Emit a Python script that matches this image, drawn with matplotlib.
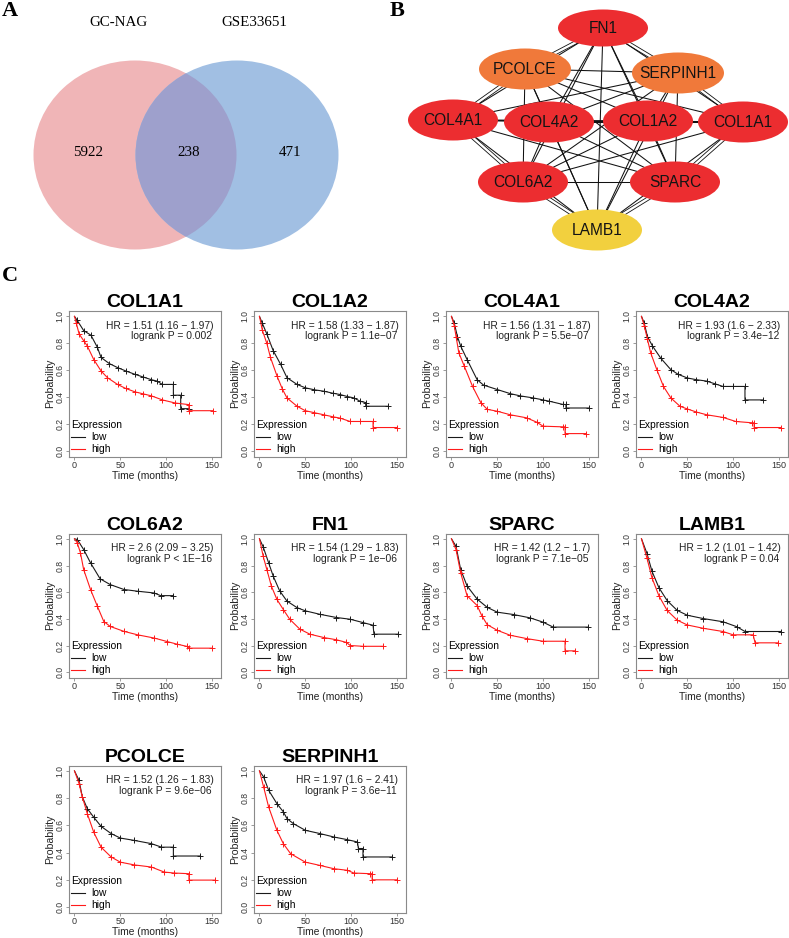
import matplotlib
matplotlib.use('Agg')
import matplotlib.pyplot as plt
from matplotlib.patches import Ellipse
from matplotlib.lines import Line2D
from itertools import combinations
import numpy as np

# ---------------- data ----------------
# Panel A (Venn)
venn_sets = ['GC-NAG', 'GSE33651']
venn_counts = [5922, 238, 471]          # only GC-NAG, both, only GSE33651
venn_colors = ['#F0B5B7', '#A1BFE3', '#9EA0CC']

# Panel B (PPI network of hub genes)
hub_genes = ['FN1', 'PCOLCE', 'SERPINH1', 'COL4A1', 'COL4A2',
             'COL1A2', 'COL1A1', 'COL6A2', 'SPARC', 'LAMB1']
hub_rank = ['high', 'mid', 'mid', 'high', 'high',
            'high', 'high', 'high', 'high', 'low']
rank_colors = {'high': '#EC2D30', 'mid': '#F0793A', 'low': '#F2D03E'}
double_edges = [('FN1', 'PCOLCE'), ('FN1', 'SERPINH1'), ('PCOLCE', 'COL4A1'),
                ('SERPINH1', 'COL1A1'), ('COL4A1', 'COL6A2'), ('COL1A1', 'SPARC'),
                ('COL6A2', 'LAMB1'), ('SPARC', 'LAMB1')]

# Panel C (Kaplan-Meier curves; step knots)
km_genes = ['COL1A1', 'COL1A2', 'COL4A1', 'COL4A2',
            'COL6A2', 'FN1', 'SPARC', 'LAMB1', 'PCOLCE', 'SERPINH1']

COL1A1_low_t = [0, 3, 10, 18, 25, 29, 38, 47, 56, 66, 75, 84, 90, 96, 108, 108, 116, 116, 125]
COL1A1_low_s = [1.0, 0.97, 0.895, 0.86, 0.77, 0.695, 0.65, 0.62, 0.595, 0.57, 0.55, 0.53, 0.52, 0.495, 0.495, 0.415, 0.415, 0.315, 0.315]
COL1A1_high_t = [0, 2, 5, 10, 14, 21, 29, 36, 47, 56, 66, 75, 84, 96, 110, 125, 125, 151]
COL1A1_high_s = [1.0, 0.95, 0.87, 0.82, 0.78, 0.68, 0.595, 0.545, 0.495, 0.465, 0.44, 0.425, 0.41, 0.38, 0.357, 0.345, 0.30, 0.30]

COL1A2_low_t = [0, 3, 8, 15, 23, 30, 41, 50, 60, 70, 80, 88, 96, 103, 110, 116, 116, 140]
COL1A2_low_s = [1.0, 0.95, 0.87, 0.745, 0.645, 0.545, 0.495, 0.47, 0.455, 0.445, 0.43, 0.42, 0.405, 0.395, 0.37, 0.36, 0.333, 0.333]
COL1A2_high_t = [0, 3, 8, 12, 19, 25, 30, 41, 50, 60, 70, 80, 88, 99, 110, 124, 124, 150]
COL1A2_high_s = [1.0, 0.9, 0.8, 0.695, 0.56, 0.46, 0.395, 0.333, 0.30, 0.285, 0.27, 0.255, 0.245, 0.22, 0.22, 0.22, 0.175, 0.175]

COL4A1_low_t = [0, 3, 6.5, 10, 17, 28, 35, 50, 64, 75, 89, 100, 107, 122, 125, 125, 150]
COL4A1_low_s = [1.0, 0.95, 0.85, 0.78, 0.68, 0.53, 0.49, 0.457, 0.427, 0.41, 0.395, 0.38, 0.37, 0.346, 0.346, 0.32, 0.32]
COL4A1_high_t = [0, 3, 5, 8, 14, 23, 32, 39, 50, 64, 82, 93, 100, 122, 124, 124, 147]
COL4A1_high_s = [1.0, 0.93, 0.85, 0.73, 0.63, 0.48, 0.36, 0.31, 0.296, 0.27, 0.247, 0.215, 0.185, 0.18, 0.18, 0.13, 0.13]

COL4A2_low_t = [0, 3, 6.5, 12, 21, 32, 40, 50, 60, 71, 80, 89, 100, 113, 113, 133]
COL4A2_low_s = [1.0, 0.95, 0.85, 0.78, 0.69, 0.605, 0.57, 0.543, 0.53, 0.52, 0.5, 0.48, 0.48, 0.48, 0.38, 0.38]
COL4A2_high_t = [0, 3, 6.5, 10, 17, 24, 32, 42, 50, 60, 71, 89, 103, 121, 123, 123, 152]
COL4A2_high_s = [1.0, 0.93, 0.83, 0.73, 0.6, 0.48, 0.395, 0.333, 0.313, 0.29, 0.27, 0.25, 0.22, 0.21, 0.21, 0.175, 0.175]

COL6A2_low_t = [0, 3, 10, 17.5, 28, 39, 54, 69, 87, 94, 108]
COL6A2_low_s = [1.0, 0.995, 0.92, 0.82, 0.70, 0.657, 0.62, 0.607, 0.594, 0.574, 0.574]
COL6A2_high_t = [0, 3, 6.5, 10, 17.5, 25, 32, 39, 54, 69, 87, 101, 112, 123, 125, 150]
COL6A2_high_s = [1.0, 0.97, 0.895, 0.77, 0.62, 0.494, 0.38, 0.343, 0.306, 0.28, 0.256, 0.23, 0.21, 0.193, 0.18, 0.18]

FN1_low_t = [0, 4, 10, 15, 22, 30, 41, 50, 66, 84, 99, 113, 124, 125, 151]
FN1_low_s = [1.0, 0.94, 0.82, 0.72, 0.61, 0.533, 0.484, 0.46, 0.434, 0.41, 0.397, 0.372, 0.352, 0.285, 0.285]
FN1_high_t = [0, 4, 8, 13, 19, 26, 33, 44, 55, 70, 84, 95, 99, 113, 135]
FN1_high_s = [1.0, 0.87, 0.77, 0.645, 0.546, 0.47, 0.397, 0.323, 0.285, 0.26, 0.243, 0.223, 0.2, 0.194, 0.194]

SPARC_low_t = [0, 5, 10, 17, 28, 39, 50, 68, 86, 100, 111, 149]
SPARC_low_s = [1.0, 0.943, 0.77, 0.647, 0.548, 0.486, 0.45, 0.432, 0.407, 0.375, 0.338, 0.338]
SPARC_high_t = [0, 5, 10, 17, 28, 33, 39, 50, 64, 82, 100, 124, 124, 135]
SPARC_high_s = [1.0, 0.918, 0.746, 0.573, 0.5, 0.425, 0.356, 0.314, 0.277, 0.252, 0.232, 0.232, 0.16, 0.16]

LAMB1_low_t = [0, 6, 11.5, 19, 28, 39, 50, 67.5, 89, 104, 113, 152]
LAMB1_low_s = [1.0, 0.89, 0.756, 0.634, 0.537, 0.463, 0.427, 0.402, 0.378, 0.341, 0.305, 0.305]
LAMB1_high_t = [0, 6, 11.5, 19, 28, 39, 50, 67.5, 89, 100, 122, 124, 149]
LAMB1_high_s = [1.0, 0.854, 0.707, 0.573, 0.463, 0.39, 0.354, 0.329, 0.305, 0.28, 0.28, 0.22, 0.22]

PCOLCE_low_t = [0, 5, 8.5, 14, 21, 29, 40, 50, 65, 84, 95, 108, 108, 137]
PCOLCE_low_s = [1.0, 0.93, 0.81, 0.723, 0.66, 0.593, 0.54, 0.507, 0.49, 0.466, 0.44, 0.44, 0.375, 0.375]
PCOLCE_high_t = [0, 5, 8.5, 14, 21, 29, 40, 50, 65, 84, 98, 109, 125, 125, 153]
PCOLCE_high_s = [1.0, 0.907, 0.81, 0.686, 0.55, 0.44, 0.368, 0.33, 0.31, 0.294, 0.257, 0.25, 0.245, 0.198, 0.198]

SERPINH1_low_t = [0, 4.5, 10, 19, 26, 30, 37, 50, 66, 81, 96, 107, 108, 113, 113, 145]
SERPINH1_low_s = [1.0, 0.956, 0.858, 0.76, 0.7, 0.65, 0.613, 0.564, 0.54, 0.515, 0.495, 0.478, 0.43, 0.43, 0.368, 0.368]
SERPINH1_high_t = [0, 4.5, 10, 19, 26, 34, 50, 66, 81, 96, 103, 121, 123, 123, 150]
SERPINH1_high_s = [1.0, 0.882, 0.735, 0.564, 0.466, 0.392, 0.33, 0.306, 0.282, 0.27, 0.25, 0.245, 0.245, 0.2, 0.2]

km_hr = ['1.51 (1.16 \u2212 1.97)', '1.58 (1.33 \u2212 1.87)', '1.56 (1.31 \u2212 1.87)',
         '1.93 (1.6 \u2212 2.33)', '2.6 (2.09 \u2212 3.25)', '1.54 (1.29 \u2212 1.83)',
         '1.42 (1.2 \u2212 1.7)', '1.2 (1.01 \u2212 1.42)', '1.52 (1.26 \u2212 1.83)',
         '1.97 (1.6 \u2212 2.41)']
km_p = ['= 0.002', '= 1.1e\u221207', '= 5.5e\u221207', '= 3.4e\u221212', '< 1E\u221216',
        '= 1e\u221206', '= 7.1e\u221205', '= 0.04', '= 9.6e\u221206', '= 3.6e\u221211']

curves = {
    'COL1A1': ((COL1A1_low_t, COL1A1_low_s), (COL1A1_high_t, COL1A1_high_s)),
    'COL1A2': ((COL1A2_low_t, COL1A2_low_s), (COL1A2_high_t, COL1A2_high_s)),
    'COL4A1': ((COL4A1_low_t, COL4A1_low_s), (COL4A1_high_t, COL4A1_high_s)),
    'COL4A2': ((COL4A2_low_t, COL4A2_low_s), (COL4A2_high_t, COL4A2_high_s)),
    'COL6A2': ((COL6A2_low_t, COL6A2_low_s), (COL6A2_high_t, COL6A2_high_s)),
    'FN1': ((FN1_low_t, FN1_low_s), (FN1_high_t, FN1_high_s)),
    'SPARC': ((SPARC_low_t, SPARC_low_s), (SPARC_high_t, SPARC_high_s)),
    'LAMB1': ((LAMB1_low_t, LAMB1_low_s), (LAMB1_high_t, LAMB1_high_s)),
    'PCOLCE': ((PCOLCE_low_t, PCOLCE_low_s), (PCOLCE_high_t, PCOLCE_high_s)),
    'SERPINH1': ((SERPINH1_low_t, SERPINH1_low_s), (SERPINH1_high_t, SERPINH1_high_s)),
}

# ---------------- layout ----------------
W, H = 789, 938
fig = plt.figure(figsize=(W / 100, H / 100), dpi=100)
NARROW = ['Liberation Sans Narrow', 'Liberation Sans', 'DejaVu Sans']
SANS = ['Liberation Sans', 'DejaVu Sans']
SERIF = ['Liberation Serif', 'DejaVu Serif']


def px_axes(x0, y0, w, h):
    return fig.add_axes([x0 / W, 1 - (y0 + h) / H, w / W, h / H])


# panel letters
for letter, (lx, ly) in zip('ABC', [(2, 1), (390, 1), (2, 266)]):
    fig.text(lx / W, 1 - ly / H, letter, ha='left', va='top', fontsize=16,
             fontweight='bold', family=SERIF)

# ---------------- Panel A ----------------
axA = px_axes(0, 0, 390, 280)
axA.set_xlim(0, 390)
axA.set_ylim(280, 0)
axA.axis('off')
venn_centers = [(135, 155), (237, 155)]
ew, eh = 203, 189
left = Ellipse(venn_centers[0], ew, eh, facecolor=venn_colors[0], edgecolor='none', zorder=1)
right = Ellipse(venn_centers[1], ew, eh, facecolor=venn_colors[1], edgecolor='none', zorder=2)
axA.add_patch(left)
axA.add_patch(right)
overlap = Ellipse(venn_centers[1], ew, eh, facecolor=venn_colors[2], edgecolor='none', zorder=3)
axA.add_patch(overlap)
overlap.set_clip_path(left)
for name, x in zip(venn_sets, [118, 254]):
    axA.text(x, 23, name, ha='center', va='center', fontsize=10.8, family=SERIF)
for cnt, x in zip(venn_counts, [88, 189, 290]):
    axA.text(x, 152, str(cnt), ha='center', va='center', fontsize=10.8, family=SERIF, zorder=5)

# ---------------- Panel B ----------------
axB = px_axes(390, 0, 399, 280)
axB.set_xlim(390, 789)
axB.set_ylim(280, 0)
axB.axis('off')
node_x = [603, 525, 678, 453, 549, 648, 743, 523, 675, 597]
node_y = [28, 69, 73, 120, 122, 121, 122, 182, 182, 230]
pos = {g: (x, y) for g, x, y in zip(hub_genes, node_x, node_y)}
dbl = set(frozenset(e) for e in double_edges)
for a, b in combinations(hub_genes, 2):
    (x1, y1), (x2, y2) = pos[a], pos[b]
    if frozenset((a, b)) in dbl:
        d = np.hypot(x2 - x1, y2 - y1)
        nx, ny = -(y2 - y1) / d * 1.6, (x2 - x1) / d * 1.6
        for s in (-1, 1):
            axB.plot([x1 + s * nx, x2 + s * nx], [y1 + s * ny, y2 + s * ny],
                     color='#111111', lw=0.6, zorder=1)
    else:
        axB.plot([x1, x2], [y1, y2], color='#111111', lw=0.75, zorder=1)
for g, r in zip(hub_genes, hub_rank):
    h = 37 if g == 'FN1' else 41
    w = 92 if g in ('PCOLCE', 'SERPINH1') else 90
    axB.add_patch(Ellipse(pos[g], w, h, facecolor=rank_colors[r], edgecolor='none', zorder=3))
    axB.text(pos[g][0], pos[g][1] + 0.5, g, ha='center', va='center', fontsize=11.2,
             family=NARROW, color='#141414', zorder=4)

# ---------------- Panel C ----------------
rows_top = [311, 533.5, 765.5]
rows_h = [145.5, 144, 147]
cols_left = [69, 254, 446, 636]
panel_w = 152

for i, gene in enumerate(km_genes):
    r, c = divmod(i, 4)
    ax = px_axes(cols_left[c], rows_top[r], panel_w, rows_h[r])
    (lt, ls), (ht, hs) = curves[gene]
    ax.plot(lt, ls, color='#1a1a1a', lw=0.8, marker='+', ms=3.8, mew=0.7,
            markevery=slice(1, None))
    ax.plot(ht, hs, color='#FF1A1A', lw=0.8, marker='+', ms=3.8, mew=0.7,
            markevery=slice(1, None))
    ax.set_xlim(-6, 160)
    ax.set_ylim(-0.04, 1.04)
    ax.set_xticks([0, 50, 100, 150])
    ax.set_yticks([0, 0.2, 0.4, 0.6, 0.8, 1.0])
    ax.set_yticklabels(['0.0', '0.2', '0.4', '0.6', '0.8', '1.0'], rotation=90,
                       va='center', family=SANS, fontsize=6.2)
    ax.set_xticklabels(['0', '50', '100', '150'], family=NARROW, fontsize=6.5)
    for sp in ax.spines.values():
        sp.set_color('#8a8a8a')
        sp.set_linewidth(0.8)
    ax.tick_params(direction='out', length=2.2, width=0.6, colors='#8a8a8a',
                   labelcolor='#333333', pad=1.0)
    ax.set_xlabel('Time (months)', fontsize=7.4, family=NARROW, labelpad=0.5, color='#222222')
    ax.set_ylabel('Probability', fontsize=7.6, family=SANS, labelpad=0.5, color='#222222')
    ax.set_title(gene, fontsize=14, fontweight='bold', family=NARROW, pad=0.5)
    ax.text(0.95, 0.898, 'HR = ' + km_hr[i], transform=ax.transAxes, ha='right',
            va='center', fontsize=7.4, family=NARROW, color='#222222')
    ax.text(0.94, 0.825, 'logrank P ' + km_p[i], transform=ax.transAxes, ha='right',
            va='center', fontsize=7.4, family=NARROW, color='#222222')
    handles = [Line2D([], [], color='#1a1a1a', lw=0.8), Line2D([], [], color='#FF1A1A', lw=0.8)]
    leg = ax.legend(handles, ['low', 'high'], title='Expression', loc='lower left',
                    frameon=False, alignment='left', prop={'family': NARROW, 'size': 7.4},
                    title_fontproperties={'family': NARROW, 'size': 7.4},
                    handlelength=1.4, handletextpad=0.6, labelspacing=0.2,
                    borderpad=0.05, borderaxespad=0.15)

fig.savefig('out.png', dpi=100)
